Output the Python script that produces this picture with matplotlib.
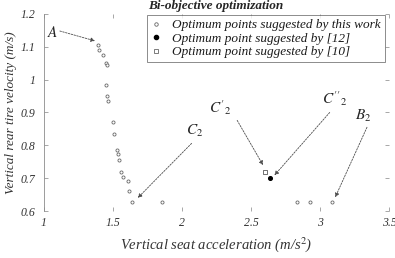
import matplotlib.pyplot as plt
from matplotlib.lines import Line2D

plt.rcParams["font.family"] = ["Liberation Serif", "DejaVu Serif"]
plt.rcParams["mathtext.fontset"] = "stix"

# optimum points suggested by this work
work_x = [1.39, 1.40, 1.43, 1.45, 1.455, 1.45, 1.46, 1.465, 1.50, 1.51, 1.53, 1.54,
          1.545, 1.56, 1.575, 1.61, 1.62, 1.64, 1.855, 2.83, 2.93, 3.09]
work_y = [1.105, 1.09, 1.075, 1.05, 1.045, 0.985, 0.95, 0.935, 0.87, 0.835, 0.785, 0.775,
          0.755, 0.72, 0.705, 0.69, 0.66, 0.627, 0.627, 0.627, 0.627, 0.627]
# reference [12] and [10]
ref12_x, ref12_y = [2.64], [0.70]
ref10_x, ref10_y = [2.60], [0.72]

labels = ["Optimum points suggested by this work",
          "Optimum point suggested by [12]",
          "Optimum point suggested by [10]"]

# annotations: label, text pos, arrow start, arrow end
notes = [
    (r"$A$", (1.065, 1.142), (1.116, 1.148), (1.37, 1.118)),
    (r"$C_2$", (2.09, 0.845), (2.07, 0.806), (1.68, 0.64)),
    (r"$C'_2$", (2.275, 0.915), (2.40, 0.876), (2.587, 0.74)),
    (r"$C''_2$", (3.11, 0.942), (3.07, 0.90), (2.67, 0.709)),
    (r"$B_2$", (3.31, 0.89), (3.34, 0.855), (3.11, 0.642)),
]

fig = plt.figure(figsize=(3.95, 2.58), dpi=100)
ax = fig.add_axes([0.111, 0.182, 0.874, 0.764])

ax.scatter(work_x, work_y, s=5, facecolors="white", edgecolors="0.4", linewidths=0.6, zorder=3)
ax.scatter(ref12_x, ref12_y, s=7, color="black", zorder=3)
ax.scatter(ref10_x, ref10_y, s=9, marker="s", facecolors="white", edgecolors="0.35",
           linewidths=0.6, zorder=3)

for txt, tpos, start, end in notes:
    ax.text(tpos[0], tpos[1], txt, fontsize=11, color="0.15", ha="center", va="center")
    ax.annotate("", xy=end, xytext=start,
                arrowprops=dict(arrowstyle="-|>", linestyle=(0, (2, 1.5)), lw=0.6,
                                color="0.3", mutation_scale=6, shrinkA=0, shrinkB=0))

ax.set_xlim(1, 3.5)
ax.set_ylim(0.6, 1.2)
ax.set_xticks([1, 1.5, 2, 2.5, 3, 3.5])
ax.set_xticklabels(["1", "1.5", "2", "2.5", "3", "3.5"])
ax.set_yticks([0.6, 0.7, 0.8, 0.9, 1.0, 1.1, 1.2])
ax.set_yticklabels(["0.6", "0.7", "0.8", "0.9", "1", "1.1", "1.2"])
ax.tick_params(direction="in", length=3, width=0.6, color="0.6", labelsize=8.5,
               labelcolor="0.2", top=True, right=True)
ax.tick_params(axis="x", pad=4)
ax.tick_params(axis="y", pad=6)
for lab in ax.get_xticklabels() + ax.get_yticklabels():
    lab.set_style("italic")
for s in ["top", "right", "bottom"]:
    ax.spines[s].set_visible(False)
ax.spines["left"].set_color("0.55")
ax.spines["left"].set_linewidth(0.6)

ax.set_xlabel(r"Vertical seat acceleration (m/s$^2$)", fontsize=10.5, style="italic",
              color="0.2", labelpad=5)
ax.set_ylabel("Vertical rear tire velocity (m/s)", fontsize=9.5, style="italic",
              color="0.2", labelpad=3)

handles = [
    Line2D([], [], ls="", marker="o", ms=2.5, mfc="white", mec="0.4", mew=0.6),
    Line2D([], [], ls="", marker="o", ms=3, color="black"),
    Line2D([], [], ls="", marker="s", ms=3, mfc="white", mec="0.4", mew=0.6),
]
leg = fig.legend(handles, labels, loc="upper left", bbox_to_anchor=(0.372, 0.942),
                 prop=dict(family="Liberation Serif", style="italic", size=9.5),
                 frameon=True, fancybox=False, handlelength=0.8,
                 handletextpad=0.8, labelspacing=0.1, borderpad=0.3, borderaxespad=0)
leg.get_frame().set_edgecolor("0.35")
leg.get_frame().set_linewidth(0.6)
for t in leg.get_texts():
    t.set_color("0.1")
fig.text(0.374, 0.955, "Bi-objective optimization", fontsize=9.5, style="italic",
         weight="bold", color="0.15", va="bottom")

fig.savefig("out.png", dpi=100)
